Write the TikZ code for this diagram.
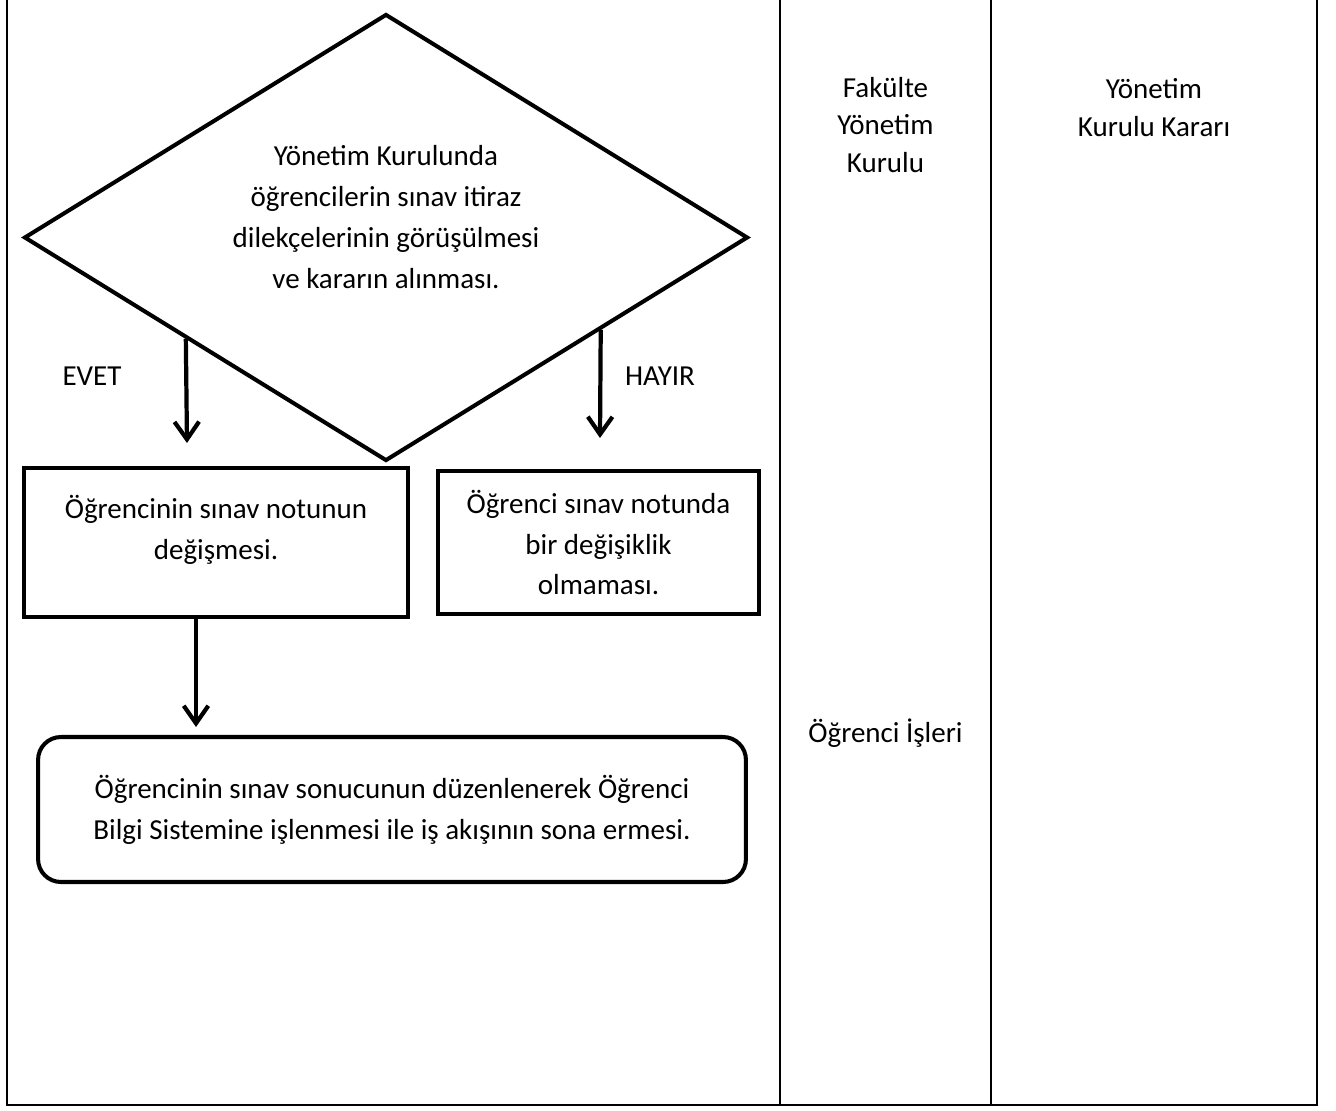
\documentclass[tikz,border=0pt]{standalone}
\usepackage{fontspec}
\setmainfont{Carlito}
\usetikzlibrary{shapes.geometric,arrows.meta,calc}

\tikzset{
	yazi/.style={font=\fontsize{16.5}{23.3}\selectfont,align=center},
	sutun/.style={font=\fontsize{16.5}{21.5}\selectfont,align=center},
	kutu/.style={yazi,draw,line width=2.3pt,inner sep=0pt},
	ok/.style={line width=2.4pt,-{Straight Barb[length=10pt,width=14pt]}},
	cizgi/.style={line width=1.1pt}
}

\begin{document}
\begin{tikzpicture}[x=0.02cm,y=-0.02cm]
	\useasboundingbox (0,0) rectangle (1336,1111);
	\foreach \x in {7,780,991,1317}{
		\draw[cizgi] (\x,0) -- (\x,1105);
	}
	\draw[line width=1.7pt] (6,1105) -- (1318,1105);
	\node[kutu,diamond,shape aspect=1.6,minimum width=14.48cm,minimum height=8.94cm] (karar) at (386,237.5) {Yönetim Kurulunda\\öğrencilerin sınav itiraz\\dilekçelerinin görüşülmesi\\ve kararın alınması.\\\mbox{}};
	\node[kutu,minimum width=7.68cm,minimum height=2.98cm] (degis) at (216,542.5) {Öğrencinin sınav notunun\\değişmesi.\\[-6pt]\mbox{}};
	\node[kutu,minimum width=6.42cm,minimum height=2.86cm] (degismez) at (598.5,542.5) {Öğrenci sınav notunda\\bir değişiklik\\olmaması.};
	\node[kutu,rounded corners=13pt,minimum width=14.16cm,minimum height=2.9cm] (son) at (392,809.5) {Öğrencinin sınav sonucunun düzenlenerek Öğrenci\\Bilgi Sistemine işlenmesi ile iş akışının sona ermesi.};
	\node[yazi] (evet) at (92,376) {EVET};
	\node[yazi] (hayir) at (660,376) {HAYIR};
	\node[sutun] (fyk) at (885.5,125) {Fakülte\\Yönetim\\Kurulu};
	\node[sutun] (ykk) at (1154,107.5) {Yönetim\\Kurulu Kararı};
	\node[sutun] (oi) at (885.5,733) {Öğrenci İşleri};
	\coordinate (ucE) at (187,443);
	\coordinate (ucH) at (600,438);
	\coordinate (ucS) at (196,727);
	\draw[ok] ($(karar.west)!0.45!(karar.south)$) -- (ucE);
	\draw[ok] ($(karar.east)!0.41!(karar.south)$) -- (ucH);
	\draw[ok] (degis.south -| ucS) -- (ucS);
\end{tikzpicture}
\end{document}
